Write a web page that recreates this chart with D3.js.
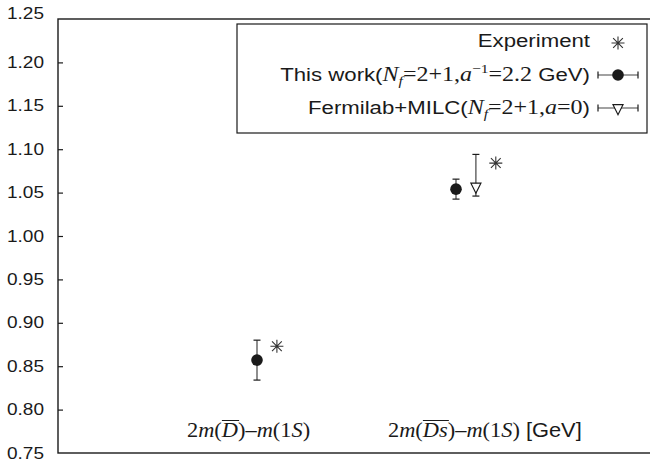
<!DOCTYPE html>
<html>
<head>
<meta charset="utf-8">
<script src="https://cdn.jsdelivr.net/npm/d3@7"></script>
<style>
  html, body { margin: 0; padding: 0; background: #fff; }
  svg { display: block; }
</style>
</head>
<body>
<svg id="chart" width="650" height="461"></svg>
<script>
// Mass splittings (GeV) for the two quantities
const categories = ["D", "Ds"];
const thisWork = [0.857, 1.054];
const thisWorkErr = [0.023, 0.0115];
const fermilab = [null, 1.057];
const fermilabLow = [null, 1.046];
const fermilabHigh = [null, 1.094];
const experiment = [0.873, 1.084];
const yTicks = [0.75, 0.80, 0.85, 0.90, 0.95, 1.00, 1.05, 1.10, 1.15, 1.20, 1.25];

const W = 650, H = 461;
const margin = { left: 58, top: 19, right: -5, bottom: 8 };
const sans = "'Liberation Sans', Arial, Helvetica, sans-serif";
const serif = "'Liberation Serif', 'Times New Roman', serif";
const ink = "#1a1a1a";
const SX = 1.12; // horizontal text stretch

const svg = d3.select("#chart");

const x = d3.scaleLinear().domain([0, 3]).range([margin.left, W - margin.right]);
const y = d3.scaleLinear().domain([0.75, 1.25]).range([H - margin.bottom, margin.top]);

// frame
svg.append("rect")
  .attr("x", x(0)).attr("y", y(1.25))
  .attr("width", x(3) - x(0)).attr("height", y(0.75) - y(1.25))
  .attr("fill", "none").attr("stroke", ink).attr("stroke-width", 1.4);

// left axis with inward ticks
const yAxis = d3.axisLeft(y).tickValues(yTicks).tickSize(-5).tickPadding(0).tickFormat(d3.format(".2f"));
const gy = svg.append("g").attr("transform", `translate(${x(0)},0)`).call(yAxis);
gy.select(".domain").remove();
gy.selectAll(".tick line").attr("stroke", ink).attr("stroke-width", 1.2)
  .filter(d => d === 0.75 || d === 1.25).remove();
gy.selectAll(".tick text").remove();
gy.selectAll(".tick").each(function(d) {
  d3.select(this).append("text")
    .attr("transform", `translate(-14,${d === 1.25 ? -1 : 5}) scale(${SX},1)`)
    .attr("text-anchor", "end")
    .attr("font-family", sans).attr("font-size", 17).attr("fill", ink)
    .text(d3.format(".2f")(d));
});

// right axis ticks (inward)
const yAxisR = d3.axisRight(y).tickValues(yTicks).tickSize(-5).tickFormat("");
const gr = svg.append("g").attr("transform", `translate(${x(3)},0)`).call(yAxisR);
gr.select(".domain").remove();
gr.selectAll(".tick line").attr("stroke", ink).attr("stroke-width", 1.2);

// marker helpers
function asterisk(g, cx, cy, s) {
  const p = d3.path();
  p.moveTo(cx - s, cy); p.lineTo(cx + s, cy);
  p.moveTo(cx, cy - s); p.lineTo(cx, cy + s);
  const d = s * 0.75;
  p.moveTo(cx - d, cy - d); p.lineTo(cx + d, cy + d);
  p.moveTo(cx - d, cy + d); p.lineTo(cx + d, cy - d);
  g.append("path").attr("d", p.toString()).attr("stroke", "#333").attr("stroke-width", 1.1).attr("fill", "none");
}
function triangleDown(g, cx, cy, s) {
  // inverted triangle, centroid at (cx, cy)
  const h = s * 2;
  g.append("path")
    .attr("d", `M${cx - s},${cy - h / 3}L${cx + s},${cy - h / 3}L${cx},${cy + 2 * h / 3}Z`)
    .attr("fill", "#fff").attr("stroke", ink).attr("stroke-width", 1.2);
}
function vErr(g, cx, y1, y2) {
  g.append("line").attr("x1", cx).attr("x2", cx).attr("y1", y1).attr("y2", y2)
    .attr("stroke", "#444").attr("stroke-width", 1.2);
  [y1, y2].forEach(yy => g.append("line").attr("x1", cx - 3.5).attr("x2", cx + 3.5)
    .attr("y1", yy).attr("y2", yy).attr("stroke", ink).attr("stroke-width", 1.2));
}
function hErr(g, x1, x2, cy) {
  g.append("line").attr("x1", x1).attr("x2", x2).attr("y1", cy).attr("y2", cy)
    .attr("stroke", "#444").attr("stroke-width", 1.2);
  [x1, x2].forEach(xx => g.append("line").attr("x1", xx).attr("x2", xx)
    .attr("y1", cy - 3.5).attr("y2", cy + 3.5).attr("stroke", ink).attr("stroke-width", 1.2));
}

const marks = svg.append("g");
categories.forEach((c, i) => {
  const base = i + 1;
  // this work
  vErr(marks, x(base), y(thisWork[i] + thisWorkErr[i]), y(thisWork[i] - thisWorkErr[i]));
  marks.append("circle").attr("cx", x(base)).attr("cy", y(thisWork[i])).attr("r", 5.8).attr("fill", ink);
  // Fermilab+MILC
  let slot = 1;
  if (fermilab[i] != null) {
    const fx = x(base + 0.1 * slot);
    vErr(marks, fx, y(fermilabHigh[i]), y(fermilabLow[i]));
    triangleDown(marks, fx, y(fermilab[i]), 5);
    slot++;
  }
  // experiment
  asterisk(marks, x(base + 0.1 * slot), y(experiment[i]), 6.5);
});

// category labels
function mathLabel(xStart, yBase, parts) {
  const t = svg.append("text")
    .attr("transform", `translate(${xStart},${yBase}) scale(${SX},1)`)
    .attr("fill", ink).attr("font-size", 20);
  const bars = [];
  parts.forEach(p => {
    const ts = t.append("tspan").text(p.t)
      .attr("font-family", p.sans ? sans : serif)
      .attr("font-style", p.it ? "italic" : "normal");
    if (p.sans) ts.attr("font-size", 19.5);
    if (p.bar) bars.push(ts);
  });
  bars.forEach(ts => {
    const b = ts.node().getBBox();
    svg.append("line")
      .attr("transform", `translate(${xStart},${yBase}) scale(${SX},1)`)
      .attr("x1", b.x + 1).attr("x2", b.x + b.width + 1)
      .attr("y1", -16.5).attr("y2", -16.5)
      .attr("stroke", ink).attr("stroke-width", 1);
  });
}
mathLabel(187, 437, [
  { t: "2" }, { t: "m", it: true }, { t: "(" }, { t: "D", it: true, bar: true }, { t: ")\u2013" },
  { t: "m", it: true }, { t: "(1" }, { t: "S", it: true }, { t: ")" }
]);
mathLabel(388, 437, [
  { t: "2" }, { t: "m", it: true }, { t: "(" }, { t: "Ds", it: true, bar: true }, { t: ")\u2013" },
  { t: "m", it: true }, { t: "(1" }, { t: "S", it: true }, { t: ")" }, { t: " [GeV]", sans: true }
]);

// legend
const leg = svg.append("g");
leg.append("rect").attr("x", 237).attr("y", 24).attr("width", 410).attr("height", 109)
  .attr("fill", "#fff").attr("stroke", ink).attr("stroke-width", 1.2);

const LSX = 1.2;
function legendText(yBase, parts) {
  const t = leg.append("text")
    .attr("transform", `translate(590,${yBase}) scale(${LSX},1)`)
    .attr("text-anchor", "end").attr("fill", ink).attr("font-size", 18.5);
  parts.forEach(p => {
    const ts = t.append("tspan").text(p.t)
      .attr("font-family", p.serif ? serif : sans)
      .attr("font-style", p.it ? "italic" : "normal");
    if (p.serif) ts.attr("font-size", 20);
    if (p.sub) ts.attr("font-size", 13).attr("dy", 4);
    if (p.sup) ts.attr("font-size", 13).attr("dy", -8);
    if (p.back) ts.attr("dy", p.back);
  });
}
const legX = 618;
legendText(47, [{ t: "Experiment" }]);
asterisk(leg, legX, 43, 6.5);

legendText(81, [
  { t: "This work(" }, { t: "N", serif: true, it: true }, { t: "f", serif: true, it: true, sub: true },
  { t: "=2+1,", serif: true, back: -4 }, { t: "a", serif: true, it: true },
  { t: "\u22121", serif: true, sup: true }, { t: "=2.2", serif: true, back: 8 }, { t: " GeV)" }
]);
hErr(leg, 598, 638, 75);
leg.append("circle").attr("cx", legX).attr("cy", 75).attr("r", 5.8).attr("fill", ink);

legendText(114, [
  { t: "Fermilab+MILC(" }, { t: "N", serif: true, it: true }, { t: "f", serif: true, it: true, sub: true },
  { t: "=2+1,", serif: true, back: -4 }, { t: "a", serif: true, it: true }, { t: "=0", serif: true }, { t: ")" }
]);
hErr(leg, 598, 638, 108);
triangleDown(leg, legX, 108, 5);
</script>
</body>
</html>
